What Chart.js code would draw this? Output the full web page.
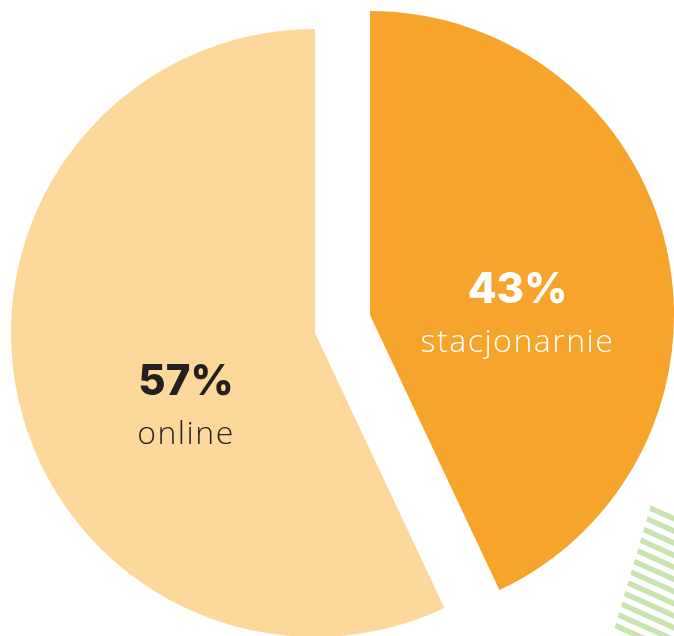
<!DOCTYPE html>
<html>
<head>
<meta charset="utf-8">
<script src="https://cdn.jsdelivr.net/npm/chart.js@4.4.1/dist/chart.umd.min.js"></script>
<style>
  html, body { margin: 0; padding: 0; background: #fff; }
  #wrap { position: relative; width: 674px; height: 636px; overflow: hidden; }
  .layer { position: absolute; left: 0; top: 0; width: 674px; height: 636px; }
</style>
</head>
<body>
<div id="wrap">
  <div class="layer"><canvas id="pieBack"></canvas></div>
  <div class="layer"><canvas id="pieFront"></canvas></div>
</div>
<script>
// dane (clockwise from 12 o'clock)
const categories = ['stacjonarnie', 'online'];
const shares = [43, 57];
const sliceColors = ['#F6A42B', '#FDD89B'];
const labelColors = ['#FFFFFF', '#231F20'];

// stripe decoration in the bottom right corner (drawn behind the pie)
const stripes = {
  id: 'stripes',
  beforeDatasetsDraw(chart) {
    const ctx = chart.ctx;
    ctx.save();
    ctx.beginPath();
    ctx.moveTo(652.5, 500);
    ctx.lineTo(680, 500);
    ctx.lineTo(680, 640);
    ctx.lineTo(611, 640);
    ctx.closePath();
    ctx.clip();
    ctx.strokeStyle = '#C9E4B1';
    ctx.lineWidth = 5.5;
    for (let k = 0; k < 12; k++) {
      const y0 = 508.5 + 12.1 * k;
      ctx.beginPath();
      ctx.moveTo(590, y0 - 0.45 * 61);
      ctx.lineTo(690, y0 + 0.45 * 39);
      ctx.stroke();
    }
    ctx.restore();
  }
};

// text inside the visible slice
const sliceLabel = {
  id: 'sliceLabel',
  afterDatasetsDraw(chart, args, opts) {
    const i = opts.index;
    const arc = chart.getDatasetMeta(0).data[i];
    const ctx = chart.ctx;
    const x = arc.x + opts.dx;
    const y = arc.y + opts.dy;
    ctx.save();
    ctx.textAlign = 'center';
    ctx.textBaseline = 'alphabetic';
    ctx.fillStyle = labelColors[i];
    ctx.font = '800 42px "Inter", "Open Sans", sans-serif';
    ctx.fillText(shares[i] + '%', x, y);
    ctx.font = '300 32px "Open Sans", sans-serif';
    ctx.letterSpacing = '1.5px';
    ctx.fillText(categories[i], x, y + 48.5);
    ctx.restore();
  }
};

function makePie(id, visible, padding, labelPos) {
  return new Chart(document.getElementById(id), {
    type: 'pie',
    data: {
      labels: categories,
      datasets: [{
        data: shares,
        backgroundColor: sliceColors.map((c, i) => i === visible ? c : 'rgba(0,0,0,0)'),
        borderWidth: 0,
        radius: 304,
      }],
    },
    options: {
      responsive: true,
      maintainAspectRatio: false,
      animation: false,
      layout: { padding: padding },
      events: [],
      plugins: {
        legend: { display: false },
        tooltip: { enabled: false },
        sliceLabel: { index: visible, dx: labelPos[0], dy: labelPos[1] },
      },
    },
    plugins: visible === 1 ? [stripes, sliceLabel] : [sliceLabel],
  });
}

// 57% slice stays in place, 43% slice is pulled out up and to the right
makePie('pieBack', 1, { left: 0, right: 44, top: 30, bottom: 0 }, [-129, 62]);
makePie('pieFront', 0, { left: 66, right: 0, top: 0, bottom: 6 }, [147.5, -11.7]);
</script>
</body>
</html>
